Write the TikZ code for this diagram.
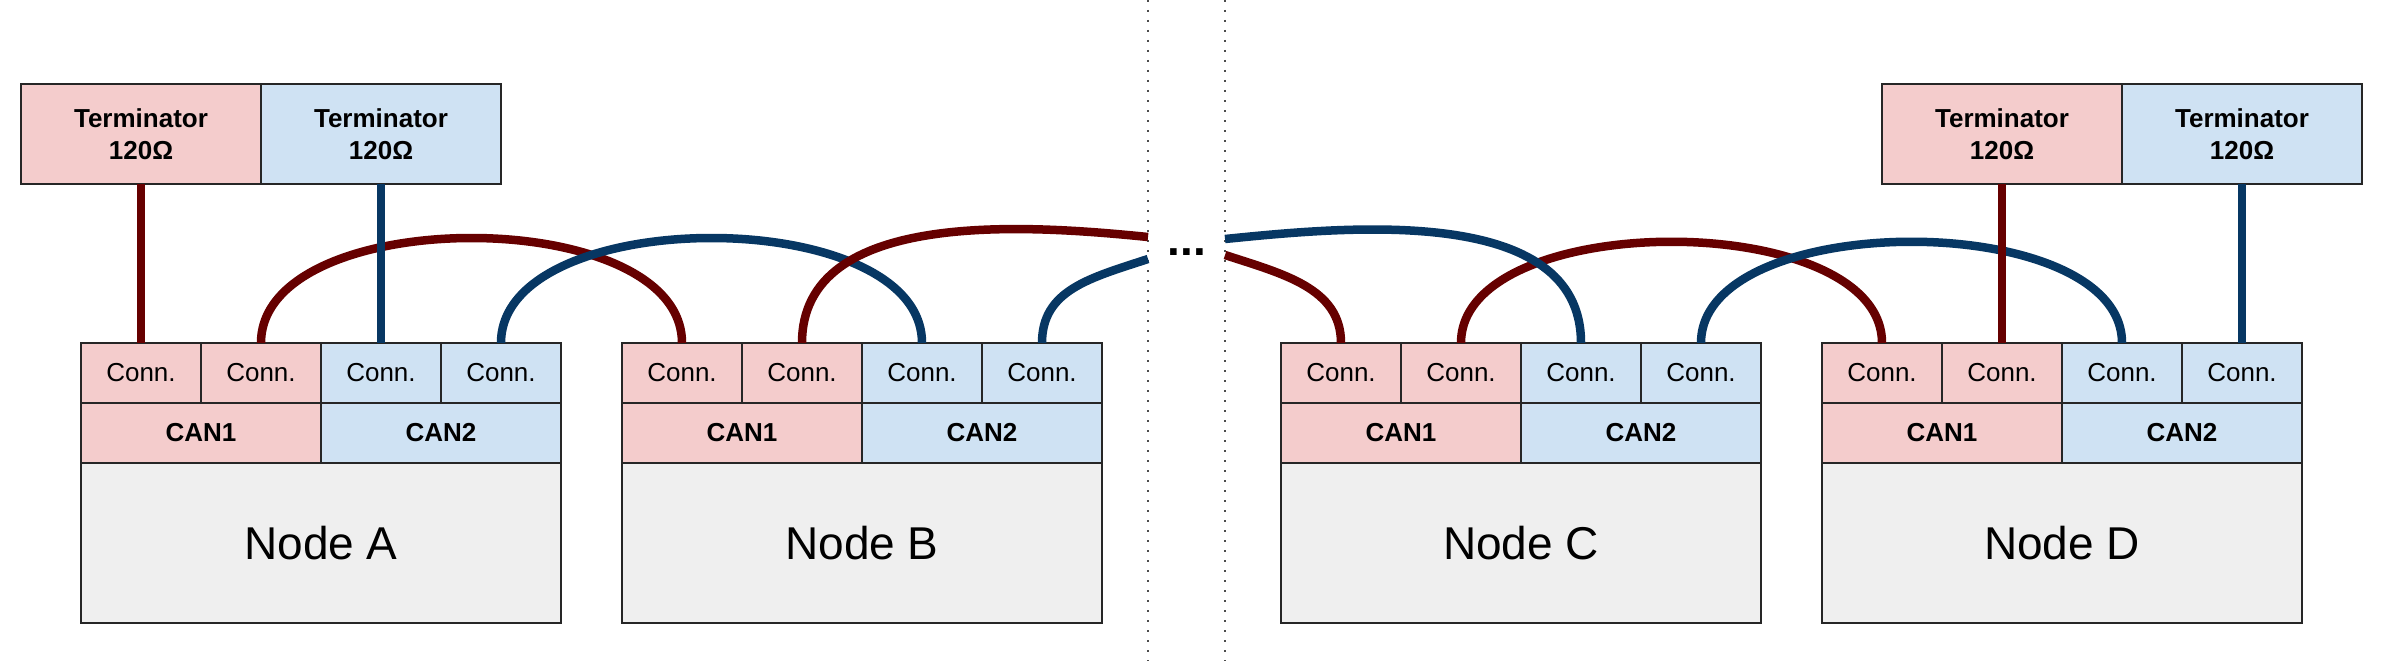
\documentclass[tikz,border=0pt]{standalone}
\usepackage{fontspec}
\setmainfont{Liberation Sans}
\definecolor{pinkfill}{HTML}{F4CCCC}
\definecolor{bluefill}{HTML}{CFE2F3}
\definecolor{greyfill}{HTML}{EFEFEF}
\definecolor{hired}{HTML}{660000}
\definecolor{loblue}{HTML}{073763}

\begin{document}
\begin{tikzpicture}
  [x=1pt,y=-1pt,
   every node/.style={draw=black!85,line width=2pt,inner sep=0pt,outer sep=0pt,
                      anchor=north west,align=center},
   conn/.style={minimum width=120pt,minimum height=60pt,font=\fontsize{26}{32}\selectfont},
   bus/.style={minimum width=240pt,minimum height=60pt,font=\fontsize{26}{32}\selectfont\bfseries},
   body/.style={fill=greyfill,minimum width=480pt,minimum height=160pt,font=\fontsize{46}{55}\selectfont},
   term/.style={minimum width=240pt,minimum height=100pt,font=\fontsize{26}{32}\selectfont\bfseries},
   can1/.style={fill=pinkfill},
   can2/.style={fill=bluefill},
   wire/.style={line width=8.5pt},
   hi/.style={wire,draw=hired},
   lo/.style={wire,draw=loblue},
   sep/.style={draw=black!70,line width=2pt,dash pattern=on 2pt off 8pt}]

  \useasboundingbox (0,0) rectangle (2402,661);

  % the four nodes
  \foreach \n/\x in {A/81,B/622,C/1281,D/1822} {
    \node[conn,can1] (\n1) at (\x,343) {Conn.};
    \node[conn,can1] (\n2) at (\x+120,343) {Conn.};
    \node[conn,can2] (\n3) at (\x+240,343) {Conn.};
    \node[conn,can2] (\n4) at (\x+360,343) {Conn.};
    \node[bus,can1] (\n can1) at (\x,403) {CAN1};
    \node[bus,can2] (\n can2) at (\x+240,403) {CAN2};
    \node[body] (\n) at (\x,463) {Node \n};
  }

  % terminators
  \node[term,can1] (TA1) at (21,84) {Terminator\\120Ω};
  \node[term,can2] (TA2) at (261,84) {Terminator\\120Ω};
  \node[term,can1] (TD1) at (1882,84) {Terminator\\120Ω};
  \node[term,can2] (TD2) at (2122,84) {Terminator\\120Ω};

  % gap
  \draw[sep] (1148,0) -- (1148,661);
  \draw[sep] (1225,0) -- (1225,661);
  \node[draw=none,anchor=center,font=\fontsize{46}{46}\selectfont\bfseries] (gap) at (1187,252) {...};
  \coordinate (lhi) at (1148,237);
  \coordinate (llo) at (1148,259);
  \coordinate (rlo) at (1225,239);
  \coordinate (rhi) at (1225,255);

  % cables
  \draw[hi] (TA1.south) -- (A1.north);
  \draw[hi] (A2.north) .. controls +(0,-140) and +(0,-140) .. (B1.north);
  \draw[lo] (TA2.south) -- (A3.north);
  \draw[lo] (A4.north) .. controls +(0,-140) and +(0,-140) .. (B3.north);
  \draw[hi] (B2.north) .. controls +(0,-135) and +(-120,-12) .. (lhi);
  \draw[lo] (B4.north) .. controls +(0,-53) and +(-58,19) .. (llo);
  \draw[hi] (rhi) .. controls +(58,19) and +(0,-55) .. (C1.north);
  \draw[hi] (C2.north) .. controls +(0,-135) and +(0,-135) .. (D1.north);
  \draw[lo] (rlo) .. controls +(120,-12) and +(0,-140) .. (C3.north);
  \draw[lo] (C4.north) .. controls +(0,-135) and +(0,-135) .. (D3.north);
  \draw[hi] (TD1.south) -- (D2.north);
  \draw[lo] (TD2.south) -- (D4.north);
\end{tikzpicture}
\end{document}
